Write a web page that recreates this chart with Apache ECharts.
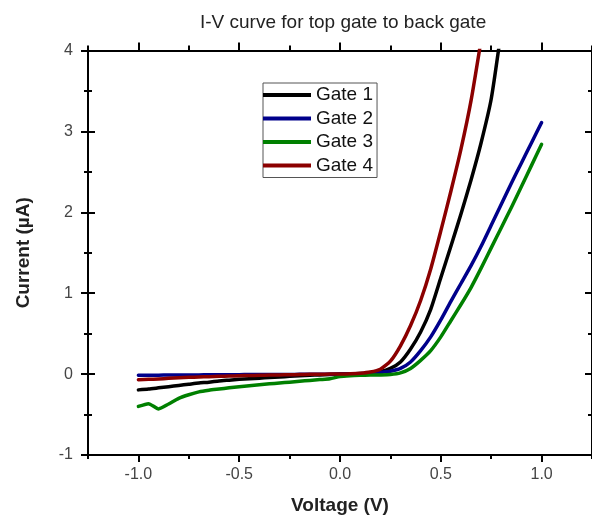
<!DOCTYPE html>
<html>
<head>
<meta charset="utf-8">
<script src="https://cdn.jsdelivr.net/npm/echarts@6/dist/echarts.min.js"></script>
<style>html,body{margin:0;padding:0;background:#fff;}#chart{width:592px;height:520px;}</style>
</head>
<body>
<div id="chart"></div>
<script>
const voltage = [-1.00,-0.95,-0.90,-0.85,-0.80,-0.75,-0.70,-0.65,-0.60,-0.55,-0.50,-0.45,-0.40,-0.35,-0.30,-0.25,-0.20,-0.15,-0.10,-0.05,0.00,0.05,0.10,0.15,0.20,0.25,0.30,0.35,0.40,0.45,0.50,0.55,0.60,0.65,0.70,0.75,0.80,0.85,0.90,0.95,1.00];
const gate1 = [-0.195,-0.185,-0.17,-0.155,-0.14,-0.125,-0.11,-0.10,-0.085,-0.075,-0.065,-0.057,-0.05,-0.042,-0.035,-0.028,-0.02,-0.015,-0.01,-0.005,0,0.003,0.008,0.015,0.03,0.07,0.15,0.31,0.52,0.80,1.19,1.58,1.98,2.40,2.86,3.40,4.25,null,null,null,null];
const gate2 = [-0.015,-0.014,-0.013,-0.012,-0.011,-0.01,-0.01,-0.009,-0.008,-0.008,-0.007,-0.006,-0.006,-0.005,-0.004,-0.004,-0.003,-0.002,-0.002,-0.001,0,0.002,0.005,0.01,0.02,0.035,0.07,0.15,0.29,0.46,0.67,0.90,1.12,1.34,1.58,1.84,2.10,2.36,2.61,2.86,3.11];
const gate3 = [-0.40,-0.365,-0.43,-0.37,-0.30,-0.255,-0.22,-0.20,-0.185,-0.17,-0.155,-0.143,-0.132,-0.12,-0.11,-0.10,-0.088,-0.078,-0.068,-0.058,-0.03,-0.02,-0.015,-0.012,-0.01,-0.005,0.015,0.07,0.17,0.29,0.46,0.66,0.86,1.07,1.31,1.56,1.81,2.06,2.32,2.58,2.84];
const gate4 = [-0.07,-0.065,-0.06,-0.052,-0.045,-0.04,-0.035,-0.032,-0.028,-0.024,-0.02,-0.017,-0.015,-0.012,-0.01,-0.008,-0.005,-0.003,-0.001,0,0,0.004,0.01,0.025,0.06,0.16,0.35,0.60,0.91,1.30,1.77,2.26,2.78,3.38,4.13,null,null,null,null,null,null];
const seriesNames = ['Gate 1','Gate 2','Gate 3','Gate 4'];
const seriesColors = ['#000000','#00008b','#008000','#8b0000'];
const xMajorTicks = [-1.0,-0.5,0.0,0.5,1.0];
const xMinorTicks = [-1.25,-0.75,-0.25,0.25,0.75,1.25];
const titleText = 'I-V curve for top gate to back gate';
const xName = 'Voltage (V)';
const yName = 'Current (\u00b5A)';

const FONT = 'Liberation Sans, Arial, sans-serif';
const allGates = [gate1, gate2, gate3, gate4];
function pairs(arr){ return voltage.map((v,i)=>[v, arr[i]]); }

const axisLine = {show:true, onZero:false, lineStyle:{color:'#000', width:2}};
const tickStyle = {color:'#000', width:2};
function xAx(pos, ticks, len, extra){
  return Object.assign({
    type:'value', position:pos, min:-1.25, max:1.25,
    axisLine: axisLine,
    axisTick:{show:true, customValues:ticks, length:len, lineStyle:tickStyle},
    axisLabel:{show:false},
    splitLine:{show:false}
  }, extra||{});
}
function yAx(pos, inside, showLine, extra){
  return Object.assign({
    type:'value', position:pos, min:-1, max:4, interval:1,
    axisLine: Object.assign({}, axisLine, {show:showLine}),
    axisTick:{show:true, inside:inside, length:7, lineStyle:tickStyle},
    minorTick:{show:true, splitNumber:2, length:4, lineStyle:tickStyle},
    axisLabel:{show:false},
    splitLine:{show:false}, minorSplitLine:{show:false}
  }, extra||{});
}

const chart = echarts.init(document.getElementById('chart'), null, {renderer:'canvas'});
chart.setOption({
  animation:false,
  backgroundColor:'#fff',
  textStyle:{fontFamily:FONT},
  color: seriesColors,
  title:{text:titleText, left:195, top:8, textStyle:{fontFamily:FONT, fontSize:19, fontWeight:'normal', color:'#222'}},
  grid:{left:88, top:50.5, right:-1, bottom:63, containLabel:false},
  legend:{
    data: seriesNames, orient:'vertical', left:263, top:83,
    itemWidth:48, itemHeight:4, itemGap:3.5, icon:'rect',
    borderColor:'#555', borderWidth:1, padding:[2,4,2,0],
    textStyle:{fontFamily:FONT, fontSize:19, color:'#111', lineHeight:20}
  },
  xAxis:[
    xAx('bottom', xMajorTicks, 7, {
      axisLabel:{show:true, customValues:xMajorTicks, formatter:v=>Number(v).toFixed(1), fontSize:16, color:'#444', margin:12, fontFamily:FONT},
      name:xName, nameLocation:'middle', nameGap:41,
      nameTextStyle:{fontSize:19, fontWeight:'bold', color:'#222', fontFamily:FONT}
    }),
    xAx('bottom', xMinorTicks, 4),
    xAx('top', xMajorTicks, 8),
    xAx('top', xMinorTicks, 5)
  ],
  yAxis:[
    yAx('left', false, true, {
      axisLabel:{show:true, fontSize:16, color:'#444', margin:15, fontFamily:FONT},
      name:yName, nameLocation:'middle', nameGap:55,
      nameTextStyle:{fontSize:19, fontWeight:'bold', color:'#222', fontFamily:FONT}
    }),
    yAx('left', true, false),
    yAx('right', true, true)
  ],
  series: seriesNames.map((name,i)=>({
    name:name, type:'line', xAxisIndex:0, yAxisIndex:0,
    data: pairs(allGates[i]), showSymbol:false, symbol:'none',
    smooth:0.2,
    lineStyle:{color:seriesColors[i], width:3.5, cap:'round', join:'round'},
    itemStyle:{color:seriesColors[i]},
    clip:true, z:2+i
  }))
});
</script>
</body>
</html>
